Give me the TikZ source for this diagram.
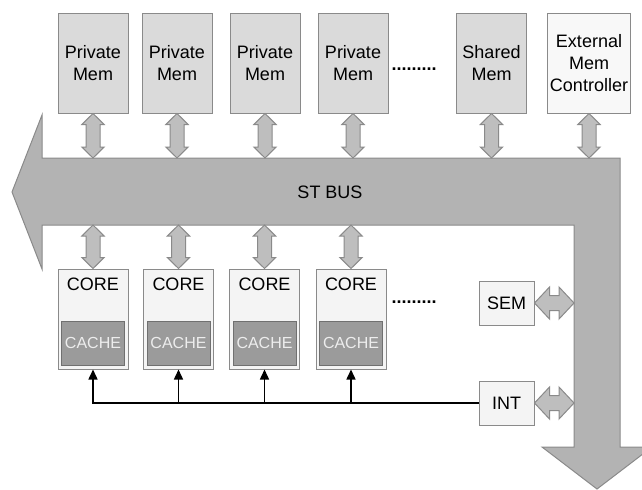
\documentclass[tikz,border=0pt]{standalone}
\usepackage{fontspec}
\setmainfont{Liberation Sans}
\usetikzlibrary{arrows.meta,calc}

\definecolor{boxline}{HTML}{8A8A8A}
\definecolor{memfill}{HTML}{DADADA}
\definecolor{extfill}{HTML}{F8F8F8}
\definecolor{corefill}{HTML}{F4F4F4}
\definecolor{cachefill}{HTML}{9B9B9B}
\definecolor{cacheline}{HTML}{707070}
\definecolor{busfill}{HTML}{B3B3B3}
\definecolor{linkfill}{HTML}{BEBEBE}

% fat two-headed links
\newcommand\vlink[2]{\path[link] let \p1=#1, \p2=#2 in
  (\x1,\y1) -- (\x1+5.6pt,\y1-5.5pt) -- (\x1+3.5pt,\y1-5.5pt) -- (\x1+3.5pt,\y2+5.5pt)
  -- (\x1+5.6pt,\y2+5.5pt) -- (\x1,\y2) -- (\x1-5.6pt,\y2+5.5pt) -- (\x1-3.5pt,\y2+5.5pt)
  -- (\x1-3.5pt,\y1-5.5pt) -- (\x1-5.6pt,\y1-5.5pt) -- cycle;}
\newcommand\hlink[2]{\path[link] let \p1=#1, \p2=#2 in
  (\x1,\y1) -- (\x1+7.5pt,\y1+8pt) -- (\x1+7.5pt,\y1+3.75pt) -- (\x2-7.5pt,\y1+3.75pt)
  -- (\x2-7.5pt,\y1+8pt) -- (\x2,\y1) -- (\x2-7.5pt,\y1-8pt) -- (\x2-7.5pt,\y1-3.75pt)
  -- (\x1+7.5pt,\y1-3.75pt) -- (\x1+7.5pt,\y1-8pt) -- cycle;}

\begin{document}
\begin{tikzpicture}[x=0.5pt,y=-0.5pt,font=\fontsize{9}{11}\selectfont,
  mem/.style={draw=boxline, line width=0.5pt, fill=memfill, minimum width=35pt,
    minimum height=50pt, align=center, inner sep=1pt},
  core/.style={draw=boxline, line width=0.5pt, fill=corefill, minimum width=35pt,
    minimum height=50pt, label={[anchor=north,inner sep=4.5pt]north:CORE}},
  cache/.style={draw=cacheline, line width=0.5pt, fill=cachefill, minimum width=31.5pt,
    minimum height=22pt, inner sep=0pt, text=white!93!black, font=\fontsize{8}{10}\selectfont},
  unit/.style={draw=boxline, line width=0.5pt, fill=corefill, minimum width=27.5pt,
    minimum height=22pt},
  bus/.style={draw=boxline, line width=0.5pt, fill=busfill},
  link/.style={draw=boxline, line width=0.5pt, fill=linkfill},
  dots/.style={anchor=base, font=\fontsize{9}{11}\selectfont\bfseries},
  sig/.style={line width=0.75pt, -{Triangle[length=5pt,width=4.5pt]}}]
  \useasboundingbox (0,0) rectangle (642,489);
  \clip (0,0) rectangle (642,489);

  % the bus
  \draw[bus] (12,192) -- (42,115) -- (42,158) -- (620,158) -- (620,447) -- (652,447)
    -- (597,489) -- (542,447) -- (574,447) -- (574,225) -- (42,225) -- (42,269) -- cycle;
  \node (stbus) at (330,192) {ST BUS};
  \coordinate (bustop) at (0,158);
  \coordinate (busbot) at (0,225);
  \coordinate (busin) at (574,0);

  % memories
  \node[mem] (pm1) at (93,63) {Private\\Mem};
  \node[mem] (pm2) at (177,63) {Private\\Mem};
  \node[mem] (pm3) at (265,63) {Private\\Mem};
  \node[mem] (pm4) at (353,63) {Private\\Mem};
  \node[dots] (mdots) at (414,70) {.........};
  \node[mem] (sm) at (491.5,63) {Shared\\Mem};
  \node[mem, fill=extfill, minimum width=41pt] (emc) at (589,63) {External\\Mem\\Controller};

  % cores
  \node[core] (c1) at (93,319) {};
  \node[core] (c2) at (178.5,319) {};
  \node[core] (c3) at (264.5,319) {};
  \node[core] (c4) at (351,319) {};
  \node[cache] (k1) at (93,343) {CACHE};
  \node[cache] (k2) at (178.5,343) {CACHE};
  \node[cache] (k3) at (264.5,343) {CACHE};
  \node[cache] (k4) at (351,343) {CACHE};
  \node[dots] (cdots) at (414,303) {.........};

  \node[unit] (sem) at (506.5,303) {SEM};
  \node[unit] (int) at (506.5,403) {INT};

  % links to the bus
  \foreach \m in {pm1,pm2,pm3,pm4,sm,emc}
    \vlink{(\m.south)}{(\m.south |- bustop)};
  \foreach \c in {c1,c2,c3,c4}
    \vlink{(\c.north |- busbot)}{(\c.north)};
  \hlink{(sem.east)}{(sem.east -| busin)};
  \hlink{(int.east)}{(int.east -| busin)};

  % interrupt lines
  \draw[sig] (int.west) -| (c1.south);
  \foreach \c in {c2,c3,c4}
    \draw[sig] (\c.south |- int.west) -- (\c.south);
\end{tikzpicture}
\end{document}
